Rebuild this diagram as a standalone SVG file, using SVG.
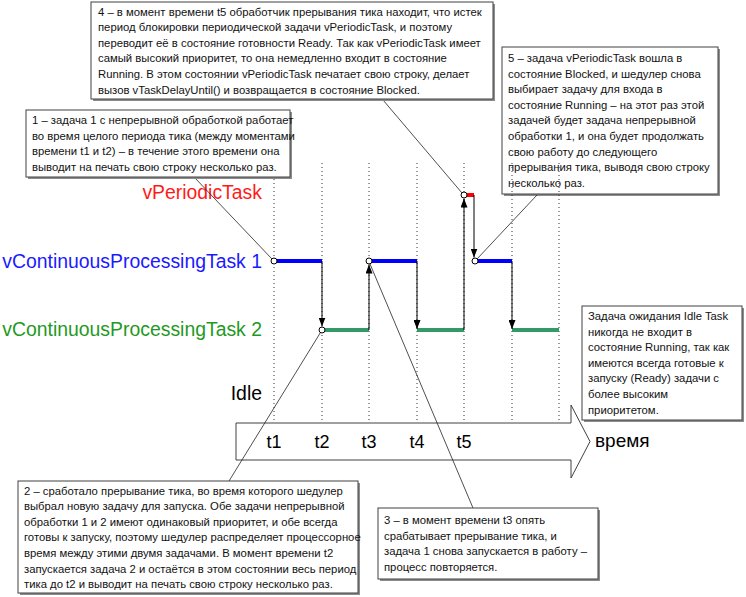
<svg xmlns="http://www.w3.org/2000/svg" width="746" height="597" viewBox="0 0 746 597">
<style>
  .box { fill: #ffffff; stroke: #404040; stroke-width: 1; }
  .shadow { fill: #8c8c8c; stroke: none; }
  .note { font-family: "Liberation Sans", Arial, sans-serif; font-size: 11.3px; fill: #111111; }
  .dot { stroke: #333333; stroke-width: 1; stroke-dasharray: 1 3; fill: none; }
  .t1 { stroke: #0000ff; stroke-width: 4; fill: none; }
  .t2 { stroke: #339966; stroke-width: 4; fill: none; }
  .tp { stroke: #ff0000; stroke-width: 4; fill: none; }
  .sw { stroke: #000000; stroke-width: 1; fill: none; marker-end: url(#ah); }
  .call { stroke: #222222; stroke-width: 0.8; fill: none; }
  .pt { fill: #ffffff; stroke: #000000; stroke-width: 1; }
  .lane { font-family: "Liberation Sans", Arial, sans-serif; font-size: 19.4px; text-anchor: end; }
  .tick { font-family: "Liberation Sans", Arial, sans-serif; font-size: 18px; fill: #000; text-anchor: middle; }
</style>
<defs>
  <marker id="ah" viewBox="0 0 9 7" refX="9" refY="3.5" markerWidth="9" markerHeight="7" markerUnits="userSpaceOnUse" orient="auto">
    <path d="M0,0 L9,3.5 L0,7 z" fill="#000000"/>
  </marker>
</defs>
<rect width="746" height="597" fill="#ffffff"/>

<g id="box5">
  <rect class="shadow" x="504" y="49" width="216" height="147"/>
  <rect class="box" x="502" y="47" width="216" height="147"/>
  <text class="note" x="508" y="62">5 – задача vPeriodicTask вошла в</text>
  <text class="note" x="508" y="77.6">состояние Blocked, и шедулер снова</text>
  <text class="note" x="508" y="93.2">выбирает задачу для входа в</text>
  <text class="note" x="508" y="108.8">состояние Running – на этот раз этой</text>
  <text class="note" x="508" y="124.4">задачей будет задача непрерывной</text>
  <text class="note" x="508" y="140">обработки 1, и она будет продолжать</text>
  <text class="note" x="508" y="155.6">свою работу до следующего</text>
  <text class="note" x="508" y="171.2">прерывания тика, выводя свою строку</text>
  <text class="note" x="508" y="186.8">несколько раз.</text>
</g>

<g id="tick-grid">
  <line class="dot" x1="274" y1="163" x2="274" y2="423"/>
  <line class="dot" x1="322" y1="163" x2="322" y2="423"/>
  <line class="dot" x1="369" y1="163" x2="369" y2="423"/>
  <line class="dot" x1="417" y1="163" x2="417" y2="423"/>
  <line class="dot" x1="464" y1="163" x2="464" y2="423"/>
  <line class="dot" x1="512" y1="163" x2="512" y2="423"/>
  <line class="dot" x1="559" y1="163" x2="559" y2="423"/>
</g>

<g id="lane-labels">
  <text class="lane" x="262" y="199" fill="#ff1a1a">vPeriodicTask</text>
  <text class="lane" x="262" y="268" fill="#1a1aff">vContinuousProcessingTask 1</text>
  <text class="lane" x="262" y="336" fill="#1f991f">vContinuousProcessingTask 2</text>
  <text class="lane" x="262" y="400" fill="#000000" font-size="18">Idle</text>
</g>

<g id="task1-run">
  <line class="t1" x1="274" y1="261" x2="322" y2="261"/>
  <line class="t1" x1="369" y1="261" x2="417" y2="261"/>
  <line class="t1" x1="476" y1="261" x2="512" y2="261"/>
</g>
<g id="task2-run">
  <line class="t2" x1="322" y1="330" x2="369" y2="330"/>
  <line class="t2" x1="417" y1="330" x2="464" y2="330"/>
  <line class="t2" x1="512" y1="330" x2="559" y2="330"/>
</g>
<g id="periodic-run">
  <line class="tp" x1="464" y1="195" x2="474" y2="195"/>
</g>

<g id="time-axis">
  <polygon points="236,423 571,423 571,405 590,441.5 571,478 571,460 236,460" fill="#ffffff" stroke="#404040" stroke-width="1"/>
  <text class="tick" x="274" y="448">t1</text>
  <text class="tick" x="322" y="448">t2</text>
  <text class="tick" x="369" y="448">t3</text>
  <text class="tick" x="417" y="448">t4</text>
  <text class="tick" x="464" y="448">t5</text>
  <text x="595" y="447" font-family="Liberation Sans, Arial, sans-serif" font-size="19" fill="#000">время</text>
</g>

<g id="connectors">
  <line class="sw" x1="322" y1="261" x2="322" y2="326.5"/>
  <line class="sw" x1="369" y1="330" x2="369" y2="264.5"/>
  <line class="sw" x1="417" y1="261" x2="417" y2="329"/>
  <line class="sw" x1="464" y1="330" x2="464" y2="198.5"/>
  <line class="sw" x1="474" y1="195" x2="474" y2="257.5"/>
  <line class="sw" x1="512" y1="261" x2="512" y2="329"/>
  <line class="call" x1="195" y1="178" x2="272" y2="259"/>
  <line class="call" x1="229" y1="481" x2="320.5" y2="332.5"/>
  <line class="call" x1="473" y1="508" x2="370" y2="264"/>
  <line class="call" x1="383" y1="100" x2="462" y2="193"/>
  <line class="call" x1="537" y1="195" x2="477" y2="259"/>
  <circle class="pt" cx="274" cy="261" r="3"/>
  <circle class="pt" cx="322" cy="330" r="3"/>
  <circle class="pt" cx="369" cy="261" r="3"/>
  <circle class="pt" cx="464" cy="195" r="3"/>
  <circle class="pt" cx="475" cy="261" r="3"/>
</g>

<g id="box4">
  <rect class="shadow" x="93" y="4" width="402" height="97"/>
  <rect class="box" x="91" y="2" width="402" height="97"/>
  <text class="note" x="98" y="15.5">4 – в момент времени t5 обработчик прерывания тика находит, что истек</text>
  <text class="note" x="98" y="31.1">период блокировки периодической задачи vPeriodicTask, и поэтому</text>
  <text class="note" x="98" y="46.7">переводит её в состояние готовности Ready. Так как vPeriodicTask имеет</text>
  <text class="note" x="98" y="62.3">самый высокий приоритет, то она немедленно входит в состояние</text>
  <text class="note" x="98" y="77.9">Running. В этом состоянии vPeriodicTask печатает свою строку, делает</text>
  <text class="note" x="98" y="93.5">вызов vTaskDelayUntil() и возвращается в состояние Blocked.</text>
</g>

<g id="box1">
  <rect class="shadow" x="28" y="112" width="264" height="67"/>
  <rect class="box" x="26" y="110" width="264" height="67"/>
  <text class="note" x="32" y="124">1 – задача 1 с непрерывной обработкой работает</text>
  <text class="note" x="32" y="139.6">во время целого периода тика (между моментами</text>
  <text class="note" x="32" y="155.2">времени t1 и t2) – в течение этого времени она</text>
  <text class="note" x="32" y="170.8">выводит на печать свою строку несколько раз.</text>
</g>

<g id="box6">
  <rect class="shadow" x="584" y="308" width="160" height="114"/>
  <rect class="box" x="582" y="306" width="160" height="114"/>
  <text class="note" x="588" y="320">Задача ожидания Idle Task</text>
  <text class="note" x="588" y="335.6">никогда не входит в</text>
  <text class="note" x="588" y="351.2">состояние Running, так как</text>
  <text class="note" x="588" y="366.8">имеются всегда готовые к</text>
  <text class="note" x="588" y="382.4">запуску (Ready) задачи с</text>
  <text class="note" x="588" y="398">более высоким</text>
  <text class="note" x="588" y="413.6">приоритетом.</text>
</g>

<g id="box2">
  <rect class="shadow" x="20" y="483" width="340" height="112"/>
  <rect class="box" x="18" y="481" width="340" height="112"/>
  <text class="note" x="24" y="494.5">2 – сработало прерывание тика, во время которого шедулер</text>
  <text class="note" x="24" y="510.1">выбрал новую задачу для запуска. Обе задачи непрерывной</text>
  <text class="note" x="24" y="525.7">обработки 1 и 2 имеют одинаковый приоритет, и обе всегда</text>
  <text class="note" x="24" y="541.3">готовы к запуску, поэтому шедулер распределяет процессорное</text>
  <text class="note" x="24" y="556.9">время между этими двумя задачами. В момент времени t2</text>
  <text class="note" x="24" y="572.5">запускается задача 2 и остаётся в этом состоянии весь период</text>
  <text class="note" x="24" y="588.1">тика до t2 и выводит на печать свою строку несколько раз.</text>
</g>

<g id="box3">
  <rect class="shadow" x="380" y="510" width="220" height="71"/>
  <rect class="box" x="378" y="508" width="220" height="71"/>
  <text class="note" x="384" y="524">3 – в момент времени t3 опять</text>
  <text class="note" x="384" y="539.6">срабатывает прерывание тика, и</text>
  <text class="note" x="384" y="555.2">задача 1 снова запускается в работу –</text>
  <text class="note" x="384" y="570.8">процесс повторяется.</text>
</g>
</svg>
